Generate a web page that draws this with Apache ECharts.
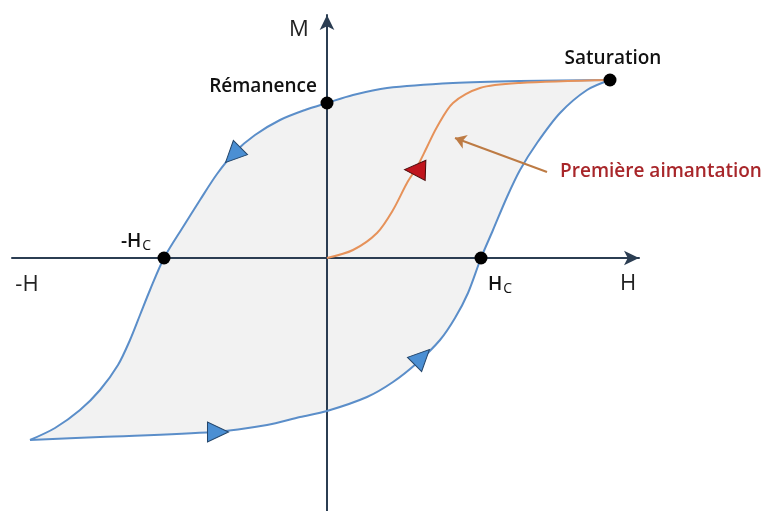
<!DOCTYPE html>
<html>
<head>
<meta charset="utf-8">
<script src="https://cdn.jsdelivr.net/npm/echarts@6/dist/echarts.min.js"></script>
<style>
	html, body { margin: 0; padding: 0; background: #fff; }
	#chart { width: 767px; height: 511px; }
</style>
</head>
<body>
<div id="chart"></div>
<script>
// branche supérieure (de -Hsat vers +Hsat), H et M en unités arbitraires
const upperH = [-2.97, -2.72, -2.47, -2.27, -2.09, -1.97, -1.87, -1.77, -1.63, -1.44, -1.27, -1.10, -0.92, -0.72, -0.47, -0.22, 0, 0.26, 0.60, 1.26, 1.93, 2.83];
const upperM = [-1.82, -1.70, -1.52, -1.32, -1.07, -0.82, -0.57, -0.32, 0, 0.31, 0.58, 0.84, 1.06, 1.23, 1.38, 1.48, 1.55, 1.63, 1.70, 1.75, 1.77, 1.78];

// branche inférieure
const lowerH = [-2.97, -2.27, -1.14, -0.60, -0.27, 0, 0.40, 0.66, 0.90, 1.13, 1.28, 1.41, 1.54, 1.66, 1.80, 1.93, 2.10, 2.33, 2.60, 2.83];
const lowerM = [-1.82, -1.79, -1.74, -1.67, -1.59, -1.53, -1.39, -1.24, -1.05, -0.82, -0.60, -0.35, 0, 0.28, 0.61, 0.88, 1.15, 1.45, 1.68, 1.78];

// courbe de première aimantation
const firstH = [0, 0.26, 0.50, 0.66, 0.80, 0.90, 1.00, 1.10, 1.26, 1.53, 1.93, 2.83];
const firstM = [0, 0.08, 0.25, 0.48, 0.75, 0.91, 1.11, 1.31, 1.55, 1.70, 1.75, 1.78];

// points remarquables : saturation, rémanence, -Hc, Hc
const keyPoints = [[2.83, 1.78], [0, 1.55], [-1.63, 0], [1.54, 0]];

// flèches de sens de parcours [H, M, rotation]
const blueArrows = [[-0.94, 1.03, 135], [-1.09, -1.74, -90], [0.95, -0.99, -45]];
const redArrows = [[0.88, 0.88, 88]];

// flèche d'annotation
const noteArrow = [[2.20, 0.86], [1.28, 1.20]];

// textes
const labelNames = ["M", "H", "-H", "Rémanence", "Saturation", "-Hc", "Hc", "Première aimantation"];
const labelPos = [[-0.28, 2.28], [3.01, -0.26], [-3.00, -0.27], [-0.64, 1.71], [2.86, 1.99], [-1.91, 0.16], [1.73, -0.27], [3.34, 0.86]];

const toPairs = (xs, ys) => xs.map((x, i) => [x, ys[i]]);

const axisColor = "#2b3d52";
const loopColor = "#5b8ec9";
const font = "Open Sans";

const chart = echarts.init(document.getElementById("chart"), null, { renderer: "canvas" });

// style de chaque texte
const labelStyles = {
	"M": { fontSize: 22, fontWeight: "normal", color: "#222" },
	"H": { fontSize: 22, fontWeight: "normal", color: "#222" },
	"-H": { fontSize: 22, fontWeight: "normal", color: "#222" },
	"Rémanence": { fontSize: 19, fontWeight: 600, color: "#111" },
	"Saturation": { fontSize: 19, fontWeight: 600, color: "#111" },
	"Première aimantation": { fontSize: 19, fontWeight: 600, color: "#a8262a" },
};

const labelData = labelNames.map((name, i) => {
	const item = { name, value: labelPos[i] };
	if (name === "-Hc" || name === "Hc") {
		item.label = {
			formatter: name === "-Hc" ? "{b|-H}{s|C}" : "{b|H}{s|C}",
			rich: {
				b: { fontFamily: font, fontSize: 19, fontWeight: 600, color: "#111" },
				s: { fontFamily: font, fontSize: 14, color: "#111", padding: [8, 0, 0, 1] },
			},
		};
	} else {
		item.label = Object.assign({ fontFamily: font }, labelStyles[name]);
	}
	return item;
});

const fillBase = {
	type: "line",
	symbol: "none",
	smooth: 0.3,
	lineStyle: { width: 0, opacity: 0 },
	silent: true,
	z: 1,
};
const lineBase = {
	type: "line",
	symbol: "none",
	smooth: 0.3,
	silent: true,
	z: 4,
};

const option = {
	animation: false,
	grid: { left: 12, right: 128, top: 15, bottom: 0 },
	xAxis: {
		type: "value",
		min: -3.15,
		max: 3.12,
		z: 3,
		axisLine: {
			onZero: true,
			symbol: ["none", "arrow"],
			symbolSize: [11, 15],
			lineStyle: { color: axisColor, width: 2 },
		},
		axisTick: { show: false },
		axisLabel: { show: false },
		splitLine: { show: false },
	},
	yAxis: {
		type: "value",
		min: -2.53,
		max: 2.43,
		z: 3,
		axisLine: {
			onZero: true,
			symbol: ["none", "arrow"],
			symbolSize: [11, 15],
			lineStyle: { color: axisColor, width: 2 },
		},
		axisTick: { show: false },
		axisLabel: { show: false },
		splitLine: { show: false },
	},
	series: [
		Object.assign({}, fillBase, {
			data: toPairs(upperH, upperM),
			areaStyle: { color: "#f2f2f2", opacity: 1, origin: "start" },
		}),
		Object.assign({}, fillBase, {
			data: toPairs(lowerH, lowerM),
			areaStyle: { color: "#ffffff", opacity: 1, origin: "start" },
		}),
		Object.assign({}, lineBase, {
			data: toPairs(upperH, upperM),
			lineStyle: { color: loopColor, width: 2 },
		}),
		Object.assign({}, lineBase, {
			data: toPairs(lowerH, lowerM),
			lineStyle: { color: loopColor, width: 2 },
		}),
		Object.assign({}, lineBase, {
			data: toPairs(firstH, firstM),
			lineStyle: { color: "#e6925a", width: 2 },
			z: 5,
		}),
		{
			type: "lines",
			coordinateSystem: "cartesian2d",
			symbol: ["none", "arrow"],
			symbolSize: 11,
			lineStyle: { color: "#bd7b44", width: 2, opacity: 1 },
			data: [{ coords: noteArrow }],
			z: 5,
		},
		{
			type: "scatter",
			symbol: "triangle",
			symbolSize: [20, 21],
			data: blueArrows.map((a) => ({ value: [a[0], a[1]], symbolRotate: a[2] })),
			itemStyle: { color: "#4b8fd3", borderColor: "#24466b", borderWidth: 1, opacity: 1 },
			silent: true,
			z: 6,
		},
		{
			type: "scatter",
			symbol: "triangle",
			symbolSize: [20, 21],
			data: redArrows.map((a) => ({ value: [a[0], a[1]], symbolRotate: a[2] })),
			itemStyle: { color: "#c0141c", borderColor: "#4a0a0a", borderWidth: 1, opacity: 1 },
			silent: true,
			z: 6,
		},
		{
			type: "scatter",
			symbolSize: 13,
			data: keyPoints,
			itemStyle: { color: "#000", opacity: 1 },
			silent: true,
			z: 7,
		},
		{
			type: "scatter",
			symbolSize: 0,
			clip: false,
			data: labelData,
			itemStyle: { opacity: 1 },
			label: {
				show: true,
				position: "inside",
				formatter: "{b}",
			},
			silent: true,
			z: 8,
		},
	],
};

chart.setOption(option);
</script>
</body>
</html>
